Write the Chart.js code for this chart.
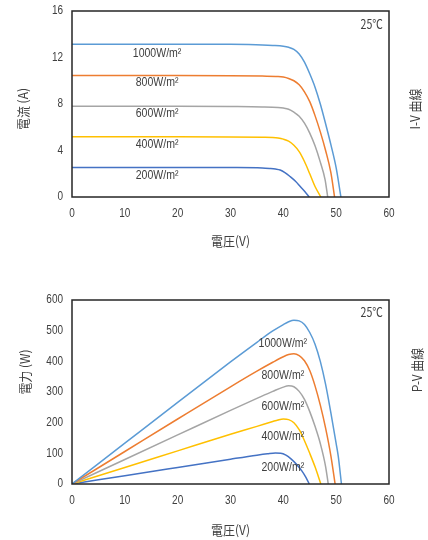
<!DOCTYPE html>
<html>
<head>
<meta charset="utf-8">
<script src="https://cdn.jsdelivr.net/npm/chart.js@4.4.1/dist/chart.umd.min.js"></script>
<style>
  body { margin: 0; background: #fff; }
  .chart-box { position: relative; width: 428px; height: 270px; }
</style>
</head>
<body>
<div class="chart-box"><canvas id="iv-chart"></canvas></div>
<div class="chart-box"><canvas id="pv-chart"></canvas></div>
<script>
// DATA
const irradiance = ["1000W/m²", "800W/m²", "600W/m²", "400W/m²", "200W/m²"]

// I-V curves (voltage V, current A)
const ivVolt1000 = [0, 10, 20, 30, 36, 38, 40, 41, 42, 43, 44, 45, 46, 47, 48, 49, 50, 50.9]
const ivAmp1000 = [13.15, 13.15, 13.15, 13.13, 13.08, 13.04, 12.97, 12.88, 12.7, 12.3, 11.6, 10.6, 9.45, 8.0, 6.3, 4.5, 2.5, 0]
const ivVolt800 = [0, 10, 20, 30, 36, 39, 40, 41, 42, 43, 44, 45, 46, 47, 48, 49, 49.7]
const ivAmp800 = [10.45, 10.45, 10.45, 10.43, 10.4, 10.37, 10.32, 10.2, 10.0, 9.65, 9.05, 8.2, 7.0, 5.6, 4.0, 2.1, 0]
const ivVolt600 = [0, 10, 20, 30, 36, 39, 40, 41, 42, 43, 44, 45, 46, 47, 47.9, 48.4]
const ivAmp600 = [7.8, 7.8, 7.8, 7.78, 7.75, 7.7, 7.65, 7.55, 7.3, 6.95, 6.35, 5.5, 4.4, 3.0, 1.5, 0]
const ivVolt400 = [0, 10, 20, 30, 36, 38, 39, 40, 41, 42, 43, 44, 45, 46, 47.1]
const ivAmp400 = [5.18, 5.18, 5.18, 5.17, 5.14, 5.12, 5.08, 4.98, 4.8, 4.45, 3.9, 3.05, 2.0, 0.9, 0]
const ivVolt200 = [0, 10, 20, 30, 36, 37.5, 38.5, 39.4, 40.3, 41.3, 42.3, 43.2, 44.1, 44.9]
const ivAmp200 = [2.54, 2.54, 2.54, 2.53, 2.5, 2.45, 2.4, 2.32, 2.1, 1.75, 1.35, 0.9, 0.45, 0]

// P-V curves (voltage V, power W)
const pvVolt1000 = [0, 10, 20, 30, 35, 38, 40, 41, 42, 43, 44, 45, 46, 47, 48, 49, 50, 50.4, 51]
const pvWatt1000 = [0, 133, 266, 398, 462, 499, 520, 529, 534, 532, 520, 494, 456, 400, 325, 232, 132, 90, 0]
const pvVolt800 = [0, 10, 20, 30, 35, 38, 40, 41, 42, 43, 44, 45, 46, 47, 48, 49, 49.8]
const pvWatt800 = [0, 106, 212, 317, 368, 397, 415, 422, 425, 419, 402, 370, 320, 257, 182, 92, 0]
const pvVolt600 = [0, 10, 20, 30, 35, 38, 40, 41, 42, 43, 44, 45, 46, 47, 48, 48.5]
const pvWatt600 = [0, 80, 160, 240, 279, 302, 316, 320, 317, 302, 276, 236, 188, 132, 57, 0]
const pvVolt400 = [0, 10, 20, 30, 35, 38, 39, 40, 41, 42, 43, 44, 45, 46, 47.1]
const pvWatt400 = [0, 54, 108, 162, 188, 204, 209, 212, 210, 200, 177, 141, 100, 56, 0]
const pvVolt200 = [0, 10, 20, 30, 35, 37, 38.5, 39.5, 40.5, 41.5, 42.5, 43.5, 44.3, 44.9]
const pvWatt200 = [0, 27, 54, 81, 94, 98.5, 101, 100.5, 94, 81, 64, 43, 21, 0]

const voltTicks = [0, 10, 20, 30, 40, 50, 60]
const ampTicks = [0, 4, 8, 12, 16]
const wattTicks = [0, 100, 200, 300, 400, 500, 600]

const lineColors = ["#5B9BD5", "#ED7D31", "#A5A5A5", "#FFC000", "#4472C4"]
const numFont = "'Liberation Sans', Arial, sans-serif"
const cjkFont = "'Noto Sans CJK TC', 'Noto Sans CJK JP', sans-serif"
const textColor = "#404040"

function toPoints(xs, ys) {
  return xs.map((x, i) => ({ x: x, y: ys[i] }))
}

function makeDatasets(xsList, ysList) {
  return xsList.map((xs, i) => ({
    label: irradiance[i],
    data: toPoints(xs, ysList[i]),
    showLine: true,
    borderColor: lineColors[i],
    backgroundColor: lineColors[i],
    borderWidth: 1.5,
    pointRadius: 0,
    cubicInterpolationMode: "monotone",
  }))
}

// text in a slightly narrow face, like the original
function drawText(ctx, text, x, y, font, align, sx, rot) {
  ctx.save()
  ctx.translate(x, y)
  if (rot) ctx.rotate(rot)
  ctx.scale(sx, 1)
  ctx.font = font
  ctx.textAlign = align
  ctx.textBaseline = "middle"
  ctx.fillStyle = textColor
  ctx.fillText(text, 0, 0)
  ctx.restore()
}

// draws the plot frame, tick labels, titles, temperature note and curve labels
const frameAndText = {
  id: "frameAndText",
  afterDraw(chart, args, opts) {
    const { ctx, chartArea: a, scales } = chart
    ctx.save()
    ctx.strokeStyle = "#262626"
    ctx.lineWidth = 1.5
    ctx.strokeRect(a.left, a.top, a.right - a.left, a.bottom - a.top)
    ctx.restore()

    // tick labels
    voltTicks.forEach((v) => {
      drawText(ctx, String(v), scales.x.getPixelForValue(v), a.bottom + 17, "12.5px " + numFont, "center", 0.8)
    })
    opts.yTicks.forEach((v) => {
      drawText(ctx, String(v), a.left - 9, scales.y.getPixelForValue(v), "12.5px " + numFont, "right", 0.8)
    })

    // curve labels
    opts.labels.forEach((l, i) => {
      drawText(ctx, irradiance[i], scales.x.getPixelForValue(l[0]), scales.y.getPixelForValue(l[1]),
        "13.5px " + numFont, "center", 0.78)
    })

    // temperature
    drawText(ctx, "25℃", a.right - 6, a.top + opts.tempDy, "12.5px " + cjkFont, "right", 0.85)

    // titles
    drawText(ctx, "電圧(V)", (a.left + a.right) / 2, a.bottom + opts.xTitleDy, "13px " + cjkFont, "center", 0.92)
    drawText(ctx, opts.yTitle, opts.yTitlePos[0], opts.yTitlePos[1], "13px " + cjkFont, "center", 0.92, -Math.PI / 2)
    drawText(ctx, opts.sideTitle, opts.sidePos[0], opts.sidePos[1], "13px " + cjkFont, "center", 0.92, -Math.PI / 2)
  },
}

function makeOptions(yTicks, padTop, xHeight, textOpts) {
  textOpts.yTicks = yTicks
  return {
    responsive: true,
    maintainAspectRatio: false,
    animation: false,
    layout: { padding: { top: padTop, right: 39, left: 0, bottom: 0 } },
    scales: {
      x: {
        type: "linear",
        min: voltTicks[0],
        max: voltTicks[voltTicks.length - 1],
        border: { display: false },
        grid: { display: false },
        ticks: { display: false },
        afterFit: (s) => { s.height = xHeight },
      },
      y: {
        min: yTicks[0],
        max: yTicks[yTicks.length - 1],
        border: { display: false },
        grid: { display: false },
        ticks: { display: false },
        afterFit: (s) => { s.width = 72 },
      },
    },
    plugins: {
      legend: { display: false },
      tooltip: { enabled: false },
      frameAndText: textOpts,
    },
  }
}

// I-V Chart
const ivCanvas = document.getElementById("iv-chart")
let ivChart = new Chart(ivCanvas, {
  type: "scatter",
  data: {
    datasets: makeDatasets(
      [ivVolt1000, ivVolt800, ivVolt600, ivVolt400, ivVolt200],
      [ivAmp1000, ivAmp800, ivAmp600, ivAmp400, ivAmp200]
    ),
  },
  options: makeOptions(ampTicks, 11, 73, {
    labels: [[16.1, 12.4], [16.1, 9.9], [16.1, 7.2], [16.1, 4.55], [16.1, 1.9]],
    tempDy: 13,
    xTitleDy: 44,
    yTitle: "電流 (A)",
    yTitlePos: [23, 109],
    sideTitle: "I-V 曲線",
    sidePos: [415, 109],
  }),
  plugins: [frameAndText],
})

// P-V Chart
const pvCanvas = document.getElementById("pv-chart")
let pvChart = new Chart(pvCanvas, {
  type: "scatter",
  data: {
    datasets: makeDatasets(
      [pvVolt1000, pvVolt800, pvVolt600, pvVolt400, pvVolt200],
      [pvWatt1000, pvWatt800, pvWatt600, pvWatt400, pvWatt200]
    ),
  },
  options: makeOptions(wattTicks, 30, 56, {
    labels: [[39.9, 459], [39.9, 354], [39.9, 253], [39.9, 155], [39.9, 55]],
    tempDy: 12,
    xTitleDy: 46,
    yTitle: "電力 (W)",
    yTitlePos: [25, 102],
    sideTitle: "P-V 曲線",
    sidePos: [417, 100],
  }),
  plugins: [frameAndText],
})
</script>
</body>
</html>
